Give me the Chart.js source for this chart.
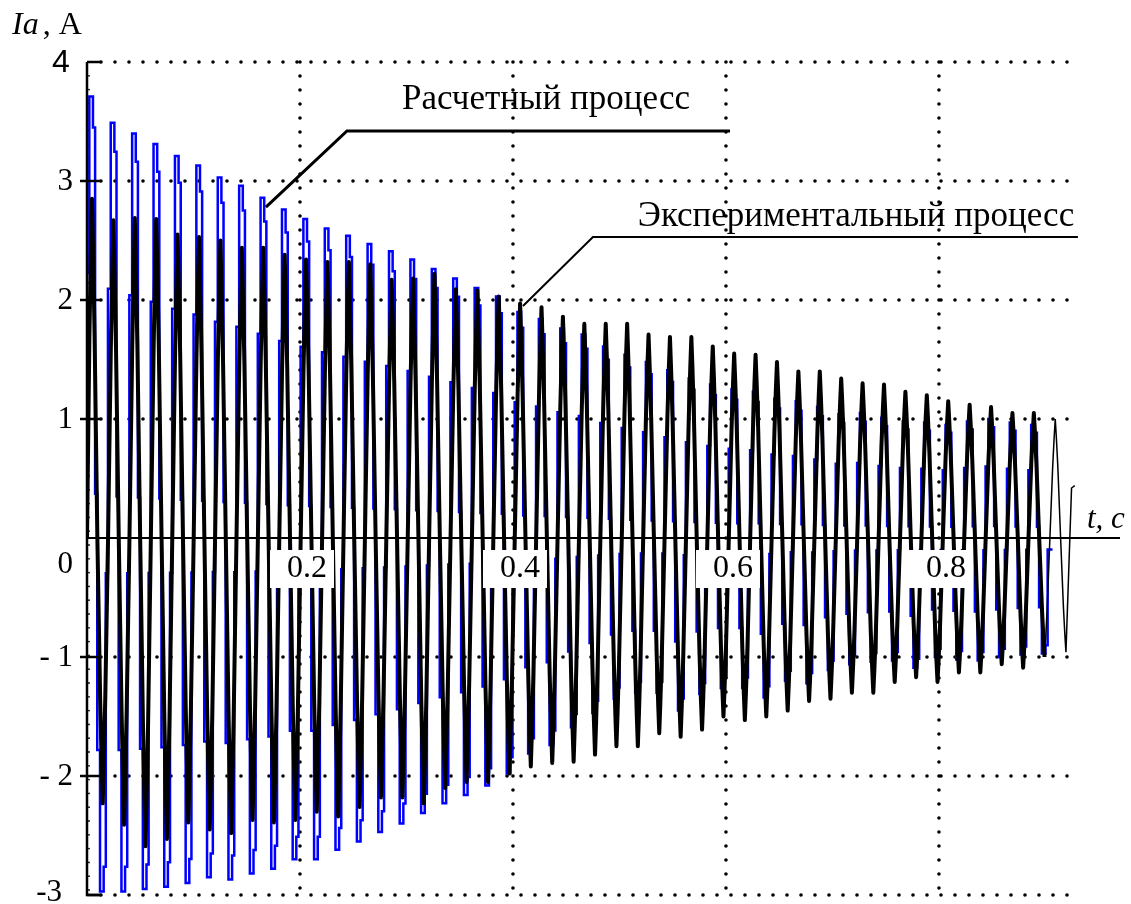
<!DOCTYPE html>
<html>
<head>
<meta charset="utf-8">
<script src="https://cdn.jsdelivr.net/npm/chart.js@4/dist/chart.umd.min.js"></script>
<style>
  body { margin: 0; background: #fff; }
  canvas { display: block; }
</style>
</head>
<body>
<canvas id="chart" width="1131" height="904"></canvas>
<script>
// period of the oscillation and time of the first peak, seconds
const PERIOD = 0.0201;
const blackFirstPeak = 0.0047;
const blueFirstPeak = 0.0056;

// experimental process (black), one value per cycle
const blackPeaks = [
  2.85, 2.67, 2.69, 2.68, 2.55, 2.53, 2.50, 2.44, 2.44, 2.38,
  2.34, 2.32, 2.32, 2.30, 2.17, 2.18, 2.22, 2.09, 2.08, 2.03,
  1.97, 1.94, 1.86, 1.80, 1.80, 1.80, 1.71, 1.69, 1.69, 1.61,
  1.55, 1.54, 1.48, 1.40, 1.40, 1.34, 1.30, 1.29, 1.23, 1.20,
  1.15, 1.12, 1.10, 1.05, 1.05, 1.00
];
const blackTroughs = [
  -2.23, -2.41, -2.59, -2.53, -2.39, -2.45, -2.48, -2.37, -2.39, -2.37,
  -2.30, -2.34, -2.26, -2.18, -2.18, -2.23, -2.10, -2.05, -2.05, -1.98,
  -1.92, -1.89, -1.88, -1.82, -1.75, -1.75, -1.64, -1.67, -1.61, -1.50,
  -1.53, -1.50, -1.45, -1.37, -1.35, -1.30, -1.30, -1.21, -1.17, -1.21,
  -1.13, -1.13, -1.06, -1.09, -1.00, -0.96
];
// last little stroke of the record
const blackEndT = [0.9245, 0.9275];
const blackEndY = [0.42, 0.44];

// calculated process (blue), one value per cycle
const bluePeaks = [
  3.71, 3.49, 3.40, 3.31, 3.21, 3.13, 3.03, 2.96, 2.86, 2.76,
  2.68, 2.60, 2.54, 2.47, 2.41, 2.34, 2.26, 2.18, 2.10, 2.03,
  1.90, 1.84, 1.76, 1.71, 1.61, 1.54, 1.48, 1.41, 1.34, 1.29,
  1.25, 1.23, 1.17, 1.15, 1.10, 1.04, 1.05, 1.01, 0.98, 0.97,
  0.95, 0.98, 1.00, 0.97, 0.95
];
const blueTroughs = [
  -2.97, -2.97, -2.95, -2.93, -2.90, -2.85, -2.87, -2.82, -2.78, -2.70,
  -2.70, -2.62, -2.55, -2.47, -2.40, -2.31, -2.23, -2.16, -2.08, -1.98,
  -1.81, -1.74, -1.59, -1.47, -1.35, -1.30, -1.30, -1.45, -1.31, -1.26,
  -1.26, -1.34, -1.20, -1.22, -1.11, -1.06, -1.04, -1.03, -1.09, -1.00,
  -1.02, -1.03, -1.00, -0.98, -0.97
];

const blackShapePhase = [0, 0.05, 0.12, 0.25, 0.38, 0.45, 0.5, 0.55, 0.62, 0.75, 0.88, 0.95];
const blackShapeLevel = [1, 0.85, 0.6, 0, 0.6, 0.85, 1, 0.85, 0.6, 0, 0.6, 0.85];
// blue is a sampled (stepped) signal: first four steps use the peak, last four the trough
const blueStepPhase = [-0.17, 0, 0.1, 0.2, 0.33, 0.5, 0.6, 0.7];
const blueStepLevel = [0.6, 1, 0.93, 0.1, 0.6, 1, 0.93, 0.1];

// axes
const yTickValues = [-3, -2, -1, 0, 1, 2, 3, 4];
const yTickLabels = ['-3', '- 2', '- 1', '0', '1', '2', '3', '4'];
const xTickValues = [0.2, 0.4, 0.6, 0.8];
const xTickLabels = ['0.2', '0.4', '0.6', '0.8'];
const X_GRID_END = 0.932;

// labels with leader lines (data units)
const calcLabel = 'Расчетный процесс';
const calcLeaderX = [0.168, 0.2441, 0.6038];
const calcLeaderY = [2.78, 3.42, 3.42];
const expLabel = 'Экспериментальный процесс';
const expLeaderX = [0.4094, 0.4751, 0.9305];
const expLeaderY = [1.95, 2.53, 2.53];

function blackAt(k, i) {
  const ph = blackShapePhase[i];
  let ext;
  if (ph < 0.25) ext = blackPeaks[k];
  else if (ph <= 0.75) ext = blackTroughs[k];
  else ext = blackPeaks[Math.min(k + 1, blackPeaks.length - 1)];
  return { x: blackFirstPeak + (k + ph) * PERIOD, y: blackShapeLevel[i] * ext };
}

// main (thick) black record
const blackMain = [{ x: 0, y: 0 }];
blackMain.push({ x: blackFirstPeak - 0.12 * PERIOD, y: 0.6 * blackPeaks[0] });
blackMain.push({ x: blackFirstPeak - 0.05 * PERIOD, y: 0.85 * blackPeaks[0] });
const lastThick = blackPeaks.length - 2;
for (let k = 0; k <= lastThick; k++) {
  for (let i = 0; i < blackShapePhase.length; i++) {
    if (k === lastThick && blackShapePhase[i] > 0.5) break;
    blackMain.push(blackAt(k, i));
  }
}
// thin tail of the record
const blackTail = [blackAt(lastThick, 6)];
for (let i = 7; i < blackShapePhase.length; i++) blackTail.push(blackAt(lastThick, i));
for (let i = 0; i <= 6; i++) blackTail.push(blackAt(lastThick + 1, i));
blackEndT.forEach((t, i) => blackTail.push({ x: t, y: blackEndY[i] }));

// blue stepped record
const blueData = [{ x: 0, y: 0 }];
for (let k = 0; k < bluePeaks.length; k++) {
  for (let i = 0; i < blueStepPhase.length; i++) {
    const ext = i < 4 ? bluePeaks[k] : blueTroughs[k];
    blueData.push({ x: blueFirstPeak + (k + blueStepPhase[i]) * PERIOD, y: blueStepLevel[i] * ext });
  }
}
blueData.push({ x: blueFirstPeak + (bluePeaks.length - 1 + 0.83) * PERIOD, y: blueData[blueData.length - 1].y });

const SERIF = '"Liberation Serif", "Times New Roman", serif';

const decor = {
  id: 'decor',
  beforeDatasetsDraw(chart) {
    const { ctx, scales: { x, y } } = chart;
    ctx.save();
    ctx.strokeStyle = '#000';
    ctx.lineCap = 'round';
    ctx.lineWidth = 3.6;
    ctx.setLineDash([0, 14]);
    // horizontal dotted grid
    yTickValues.forEach(v => {
      if (v === 0) return;
      const py = y.getPixelForValue(v);
      ctx.beginPath();
      ctx.moveTo(x.getPixelForValue(0) + 14, py);
      ctx.lineTo(x.getPixelForValue(X_GRID_END), py);
      ctx.stroke();
    });
    // vertical dotted grid
    xTickValues.forEach(v => {
      const px = x.getPixelForValue(v);
      ctx.beginPath();
      ctx.moveTo(px, y.getPixelForValue(4));
      ctx.lineTo(px, y.getPixelForValue(-3) + 3);
      ctx.stroke();
    });
    // small dots along the y axis
    ctx.lineWidth = 1.8;
    ctx.setLineDash([0, 13.8]);
    ctx.beginPath();
    ctx.moveTo(x.getPixelForValue(0) + 2, y.getPixelForValue(4));
    ctx.lineTo(x.getPixelForValue(0) + 2, y.getPixelForValue(-3));
    ctx.stroke();
    ctx.restore();
  },
  afterDatasetsDraw(chart) {
    const { ctx, scales: { x, y } } = chart;
    const x0 = x.getPixelForValue(0);
    ctx.save();
    ctx.strokeStyle = '#000';
    ctx.fillStyle = '#000';
    // y axis
    ctx.lineWidth = 2.5;
    ctx.beginPath();
    ctx.moveTo(x0, y.getPixelForValue(4));
    ctx.lineTo(x0, y.getPixelForValue(-3));
    ctx.lineTo(x0 + 14, y.getPixelForValue(-3));
    ctx.stroke();
    // y ticks
    yTickValues.forEach(v => {
      if (v === 0) return;
      const py = y.getPixelForValue(v);
      ctx.beginPath();
      ctx.moveTo(v === 4 || v === -3 ? x0 : x0 - 7, py);
      ctx.lineTo(x0 + 14, py);
      ctx.stroke();
    });
    // zero axis
    ctx.lineWidth = 2;
    ctx.beginPath();
    ctx.moveTo(x0, y.getPixelForValue(0));
    ctx.lineTo(chart.chartArea.right, y.getPixelForValue(0));
    ctx.stroke();

    // y tick labels
    ctx.textBaseline = 'middle';
    yTickValues.forEach((v, i) => {
      const py = y.getPixelForValue(v);
      if (v === 4) {
        ctx.font = '32px "Liberation Sans", Arial, sans-serif';
        ctx.textAlign = 'center';
        ctx.fillText(yTickLabels[i], x0 - 26, py + 1);
        return;
      }
      ctx.font = '31px ' + SERIF;
      ctx.textAlign = 'right';
      let dy = 1, right = x0 - 14;
      if (v === 0) dy = 27;
      if (v === -3) { dy = -2; right = x0 - 25; }
      ctx.fillText(yTickLabels[i], right, py + dy);
    });

    // x tick labels on white boxes
    const py0 = y.getPixelForValue(0);
    xTickValues.forEach((v, i) => {
      const px = x.getPixelForValue(v);
      ctx.fillStyle = '#fff';
      ctx.fillRect(px - 30, py0 + 12, 64, 38);
      ctx.fillStyle = '#000';
      ctx.font = '32px ' + SERIF;
      ctx.textAlign = 'center';
      ctx.fillText(xTickLabels[i], px + 7, py0 + 31);
    });

    // axis titles
    ctx.textAlign = 'left';
    ctx.font = 'italic 31px ' + SERIF;
    ctx.fillText('t, c', chart.chartArea.right - 33, py0 - 18);
    ctx.font = 'italic 32px ' + SERIF;
    ctx.fillText('Ia', 12, 26);
    const w = ctx.measureText('Ia').width;
    ctx.font = '32px ' + SERIF;
    ctx.fillText(' , A', 12 + w - 4, 26);

    // labels with leaders
    const leader = (xs, ys, lw) => {
      ctx.lineWidth = lw;
      ctx.beginPath();
      xs.forEach((vx, i) => {
        const px = x.getPixelForValue(vx), py = y.getPixelForValue(ys[i]);
        if (i === 0) ctx.moveTo(px, py); else ctx.lineTo(px, py);
      });
      ctx.stroke();
    };
    leader(calcLeaderX, calcLeaderY, 3);
    leader(expLeaderX, expLeaderY, 2);
    ctx.font = '35px ' + SERIF;
    ctx.textAlign = 'center';
    ctx.fillText(calcLabel, 546, 100);
    ctx.fillText(expLabel, 856, 217);
    ctx.restore();
  }
};

new Chart(document.getElementById('chart'), {
  type: 'line',
  data: {
    datasets: [
      { label: 'Экспериментальный процесс', data: blackMain, borderColor: '#000', borderWidth: 4, borderJoinStyle: 'round' },
      { label: 'Экспериментальный процесс (конец)', data: blackTail, borderColor: '#000', borderWidth: 1.5 },
      { label: 'Расчетный процесс', data: blueData, borderColor: '#0000ff', borderWidth: 2.5, stepped: 'after' }
    ]
  },
  options: {
    responsive: false,
    animation: false,
    layout: { padding: { left: 87, top: 62, right: 11, bottom: 9 } },
    elements: { point: { radius: 0 }, line: { tension: 0, fill: false } },
    scales: {
      x: { type: 'linear', min: 0, max: 0.97, display: false },
      y: { type: 'linear', min: -3, max: 4, display: false }
    },
    plugins: { legend: { display: false }, tooltip: { enabled: false } }
  },
  plugins: [decor]
});
</script>
</body>
</html>
